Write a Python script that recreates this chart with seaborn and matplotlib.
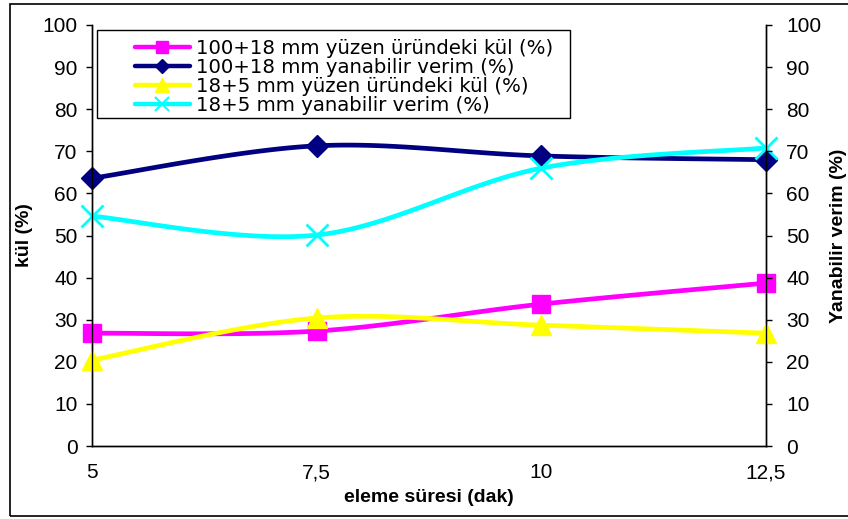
import numpy as np
import pandas as pd
import seaborn as sns
import matplotlib
matplotlib.use("Agg")
import matplotlib.pyplot as plt
from matplotlib.lines import Line2D
from matplotlib.patches import Rectangle

# --- data -------------------------------------------------------------
sure = [5, 7.5, 10, 12.5]
x_tick_labels = ["5", "7,5", "10", "12,5"]

kul_100_18 = [26.8, 27.3, 33.7, 38.7]
verim_100_18 = [63.6, 71.3, 68.9, 68.0]
kul_18_5 = [20.4, 30.4, 28.7, 26.8]
verim_18_5 = [54.6, 50.1, 66.0, 70.8]

series_names = [
    "100+18 mm yüzen üründeki kül (%)",
    "100+18 mm yanabilir verim (%)",
    "18+5 mm yüzen üründeki kül (%)",
    "18+5 mm yanabilir verim (%)",
]
series_values = [kul_100_18, verim_100_18, kul_18_5, verim_18_5]
colors = ["#FF00FF", "#000080", "#FFFF00", "#00FFFF"]
markers = ["s", "D", "^", "x"]
marker_sizes = [13.5, 11, 15, 16]

# --- styling ----------------------------------------------------------
sns.set_theme(style="white")
plt.rcParams["font.family"] = ["Liberation Sans", "DejaVu Sans"]
plt.rcParams["axes.edgecolor"] = "black"
plt.rcParams["axes.linewidth"] = 1.0
plt.rcParams["text.color"] = "black"
plt.rcParams["axes.labelcolor"] = "black"


def smooth_curve(xs, ys, n=40):
    """Piecewise cubic Bezier smoothing through every point (spreadsheet style)."""
    pts = np.column_stack([xs, ys]).astype(float)
    out = []
    for i in range(len(pts) - 1):
        p0 = pts[i - 1] if i > 0 else pts[i]
        p1, p2 = pts[i], pts[i + 1]
        p3 = pts[i + 2] if i + 2 < len(pts) else pts[i + 1]
        c1 = p1 + (p2 - p0) / 6.0
        c2 = p2 - (p3 - p1) / 6.0
        t = np.linspace(0, 1, n)[:, None]
        seg = ((1 - t) ** 3) * p1 + 3 * ((1 - t) ** 2) * t * c1 + 3 * (1 - t) * t ** 2 * c2 + t ** 3 * p2
        out.append(seg if i == 0 else seg[1:])
    arr = np.vstack(out)
    return arr[:, 0], arr[:, 1]


fig = plt.figure(figsize=(8.48, 5.19), dpi=100)
ax = fig.add_axes([92 / 848, 1 - 446 / 519, (766 - 92) / 848, (446 - 25) / 519])

# lines first, markers on top
for vals, col in zip(series_values, colors):
    sx, sy = smooth_curve(sure, vals)
    curve = pd.DataFrame({"x": sx, "y": sy})
    sns.lineplot(data=curve, x="x", y="y", ax=ax, color=col, linewidth=3.4,
                 sort=False, estimator=None, legend=False, zorder=3)

for vals, col, mk, ms in zip(series_values, colors, markers, marker_sizes):
    ax.plot(sure, vals, linestyle="none", marker=mk, markersize=ms, color=col,
            markeredgecolor=col, markeredgewidth=2 if mk == "x" else 1,
            clip_on=False, zorder=4)

ax.set_xlim(5, 12.5)
ax.set_ylim(0, 100)
ax.set_xticks(sure)
ax.set_xticklabels(x_tick_labels)
ax.set_yticks(np.arange(0, 101, 10))
ax.tick_params(axis="both", direction="out", length=4.5, width=1, colors="black",
               labelsize=15, labelcolor="black")
ax.tick_params(axis="x", pad=8)
ax.tick_params(axis="y", pad=6)
for side in ["left", "right", "bottom"]:
    ax.spines[side].set_visible(True)
    ax.spines[side].set_color("black")
ax.spines["top"].set_visible(False)

ax.set_xlabel("eleme süresi (dak)", fontsize=14, fontweight="bold", labelpad=5)
ax.set_ylabel("kül (%)", fontsize=14, fontweight="bold", labelpad=7)

ax2 = ax.twinx()
ax2.set_ylim(0, 100)
ax2.set_yticks(np.arange(0, 101, 10))
ax2.tick_params(axis="y", direction="out", length=4.5, width=1, colors="black",
                labelsize=15, labelcolor="black", pad=10)
ax2.spines["top"].set_visible(False)
ax2.spines["right"].set_color("black")
ax2.set_ylabel("Yanabilir verim (%)", fontsize=14, fontweight="bold",
               rotation=90, labelpad=6)
ax2.grid(False)
ax.grid(False)

# legend
handles = [
    Line2D([0], [0], color=c, linewidth=3.2, marker=m, markersize=s * 0.65,
           markeredgecolor=c, markeredgewidth=1.5 if m == "x" else 1)
    for c, m, s in zip(colors, markers, marker_sizes)
]
leg = fig.legend(handles, series_names, loc="upper left",
                 bbox_to_anchor=(125 / 848, 1 - 29 / 519),
                 frameon=False, labelspacing=0.0, labelcolor="black",
                 handlelength=2.8, handletextpad=0.3, borderpad=0.0,
                 prop={"family": ["DejaVu Sans"], "size": 14.2})
fig.add_artist(Rectangle((97 / 848, 1 - 118 / 519), (570 - 97) / 848, (118 - 30) / 519,
                         transform=fig.transFigure, fill=True, facecolor="white",
                         edgecolor="black", linewidth=1, zorder=0.5))
leg.set_zorder(6)

# outer chart frame (right edge runs past the canvas)
fig.add_artist(Rectangle((10 / 848, 1 - 516 / 519), (852 - 10) / 848, (516 - 4) / 519,
                         transform=fig.transFigure, fill=False,
                         edgecolor="black", linewidth=1.2))

fig.savefig("out.png", dpi=100, facecolor="white")
